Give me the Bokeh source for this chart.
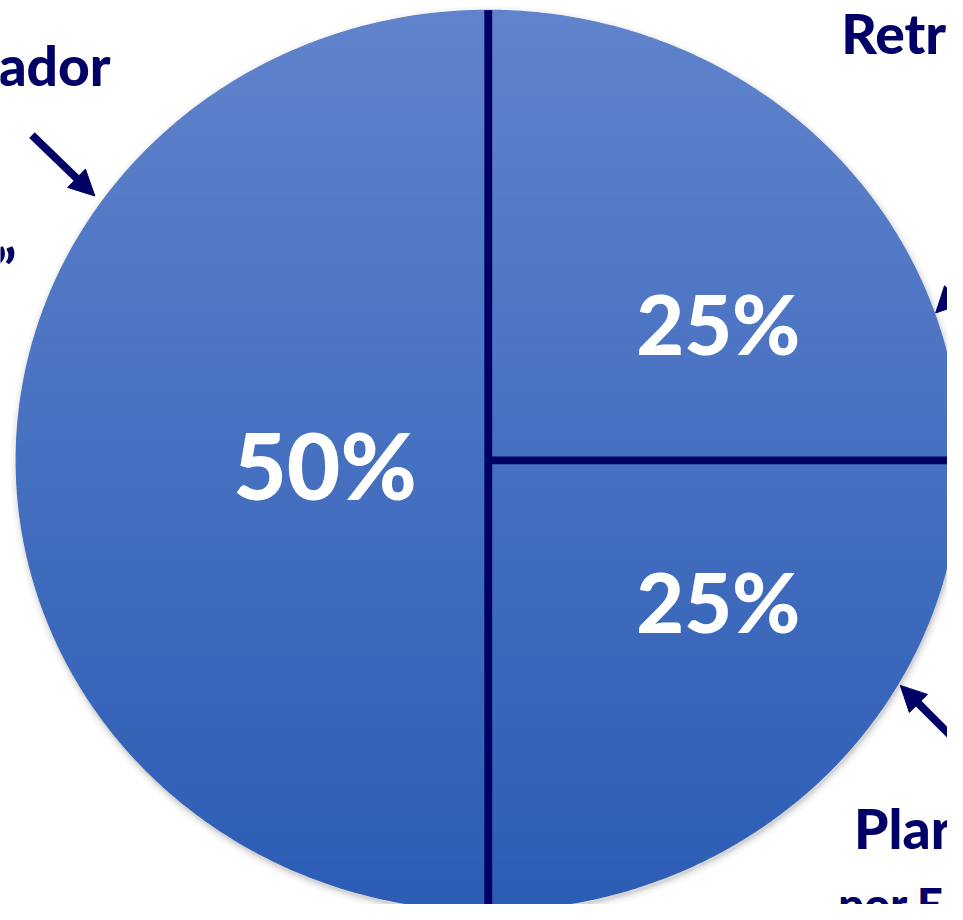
import numpy as np
from bokeh.plotting import figure
from bokeh.models import Range1d, Arrow, NormalHead, ColumnDataSource
from bokeh.core.properties import value
from bokeh.embed import file_html
from bokeh.resources import INLINE

# ---------------- data ----------------
shares = [50, 25, 25]                      # left half, bottom-right, top-right
share_labels = ["50%", "25%", "25%"]
callout_texts = ["ador", "Retr", "Plar", "por E", "\u201d"]

# ---------------- layout / style ----------------
NAVY = "#000066"
FONT = value("'Lato Black', Lato")
REF_W, REF_H = 963, 920                    # drawing units = reference pixels
W, H = 947, 904                            # figure size that fits the window
S = W / REF_W
cx, cy = 496.0, 468.0                      # pie centre
rx, ry = 480.0, 458.0                      # pie radii (slightly elliptical, as in the picture)
top_col = np.array([97, 132, 204])
bot_col = np.array([44, 93, 181])
BASE_SHIFT = 0.40                          # alphabetic baseline correction (em)

p = figure(width=W, height=H, x_range=Range1d(0, REF_W), y_range=Range1d(REF_H, 0),
           output_backend="svg", toolbar_location=None, min_border=0)
p.axis.visible = False
p.grid.visible = False
p.outline_line_color = None
p.background_fill_color = "white"
p.border_fill_color = "white"

# soft outer shadow
for grow, a in [(14, 0.05), (9, 0.07), (5, 0.10), (2, 0.14)]:
    p.ellipse(x=[cx + 1], y=[cy + 3], width=[2 * rx + grow], height=[2 * ry + grow],
              fill_color="#7f7f7f", fill_alpha=a, line_color=None)

# slice geometry from the shares
fr = np.array(shares, dtype=float) / sum(shares)
ends = 90 + 360 * np.cumsum(fr)
starts = ends - 360 * fr


def ell(theta_deg):
    t = np.radians(theta_deg)
    return cx + rx * np.cos(t), cy - ry * np.sin(t)


def clip(pts, keep, yc):
    out = []
    for i in range(len(pts)):
        cur, prev = pts[i], pts[i - 1]
        ci, pi = keep(cur), keep(prev)
        if ci != pi:
            t = (yc - prev[1]) / (cur[1] - prev[1])
            out.append((prev[0] + t * (cur[0] - prev[0]), yc))
        if ci:
            out.append(cur)
    return out


band_xs, band_ys, band_cols = [], [], []
nb = 160
edges = np.linspace(cy - ry, cy + ry, nb + 1)
for s0, s1 in zip(starts, ends):
    th = np.linspace(s0, s1, 200)
    poly = [(cx, cy)] + [ell(t) for t in th]
    for k in range(nb):
        y0, y1 = edges[k], edges[k + 1]
        pts = clip(poly, lambda q: q[1] >= y0, y0)
        if len(pts) < 3:
            continue
        pts = clip(pts, lambda q: q[1] <= y1, y1)
        if len(pts) < 3:
            continue
        f = ((y0 + y1) / 2 - (cy - ry)) / (2 * ry)
        c = (top_col + (bot_col - top_col) * f).astype(int)
        col = "#%02x%02x%02x" % tuple(c)
        band_xs.append([q[0] for q in pts])
        band_ys.append([q[1] for q in pts])
        band_cols.append(col)

p.patches(xs=band_xs, ys=band_ys, fill_color=band_cols, line_color=band_cols, line_width=1.2)

# slice dividers
bx0, by0, bx1, by1 = [], [], [], []
for a in sorted(set(np.round(np.concatenate([starts, ends]) % 360, 6))):
    x1, y1 = ell(a)
    bx0.append(cx); by0.append(cy); bx1.append(x1); by1.append(y1)
p.segment(x0=bx0, y0=by0, x1=bx1, y1=by1, line_color=NAVY, line_width=8 * S, line_cap="butt")

# percentage labels
lab_x = [330, 730, 730]
lab_base = [510, 362, 645]
lab_sz = [94, 84, 84]
p.text(x=lab_x, y=[b - BASE_SHIFT * s for b, s in zip(lab_base, lab_sz)], text=share_labels,
       text_color="white", text_font=FONT, text_font_style="bold",
       text_font_size=["%.1fpx" % (s * S) for s in lab_sz], text_align="center",
       text_baseline="alphabetic")

# call-out labels (cut off at the picture edges)
co_base = [88, 55, 865, 937, 295]
co_sz = [56, 56, 56, 46, 56]
co = ColumnDataSource(dict(
    x=[112, 855, 868, 852, 16],
    y=[b - BASE_SHIFT * s for b, s in zip(co_base, co_sz)],
    t=callout_texts,
    al=["right", "left", "left", "left", "right"],
    sz=["%.1fpx" % (s * S) for s in co_sz],
))
p.text(x="x", y="y", text="t", text_align="al", text_font_size="sz", source=co,
       text_color=NAVY, text_font=FONT, text_font_style="bold", text_baseline="alphabetic")

# arrows
for (xs, ys, xe, ye) in [(32, 137, 96, 199), (1012, 256, 951, 318), (990, 772, 915, 697)]:
    p.add_layout(Arrow(end=NormalHead(size=26 * S, fill_color=NAVY, line_color=NAVY, line_width=1),
                       x_start=xs, y_start=ys, x_end=xe, y_end=ye,
                       line_color=NAVY, line_width=8 * S))

open("out.html", "w").write(file_html(p, INLINE))
